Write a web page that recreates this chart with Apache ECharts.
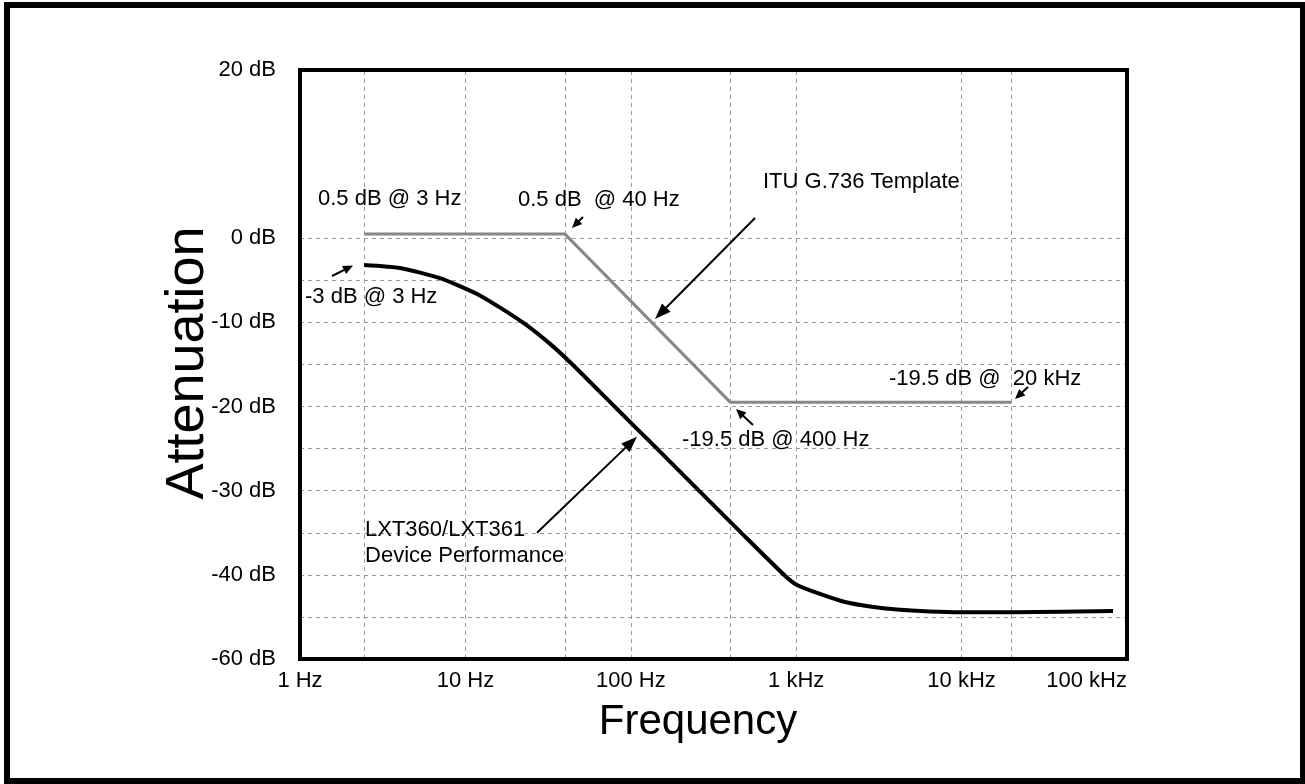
<!DOCTYPE html>
<html><head><meta charset="utf-8">
<script src="https://cdn.jsdelivr.net/npm/echarts@6/dist/echarts.min.js"></script>
<style>html,body{margin:0;padding:0;background:#fff}#c{width:1305px;height:784px}</style>
</head><body><div id="c"></div>
<script>
// ---- data ----
const xTickValues = [1, 10, 100, 1000, 10000, 100000];
const xTickLabels = ['1 Hz', '10 Hz', '100 Hz', '1 kHz', '10 kHz', '100 kHz'];
const yTickValues = [20, 0, -10, -20, -30, -40, -50];
const yTickLabels = ['20 dB', '0 dB', '-10 dB', '-20 dB', '-30 dB', '-40 dB', '-60 dB'];
const xGridValues = [2.44, 10, 40, 100, 400, 1000, 10000, 20000];
const yGridValues = [0, -5, -10, -15, -20, -25, -30, -35, -40, -45];
const templateFreq = [2.44, 40, 400, 20000];
const templateDb = [0.5, 0.5, -19.5, -19.5];
const deviceFreq = [2.44, 4.02, 7.02, 12.3, 22.0, 32.5, 44.7, 80.3, 144, 258, 464, 855, 1011, 1393, 1973, 2794, 4060, 6441, 9900, 20500, 82300];
const deviceDb = [-3.17, -3.53, -4.74, -6.82, -9.94, -12.55, -15.06, -20.05, -25.0, -29.99, -34.98, -40.1, -41.2, -42.27, -43.23, -43.76, -44.12, -44.35, -44.44, -44.44, -44.3];
const annotationTexts = ['0.5 dB @ 3 Hz', '0.5 dB  @ 40 Hz', 'ITU G.736 Template', '-3 dB @ 3 Hz',
  '-19.5 dB @ 400 Hz', '-19.5 dB @  20 kHz', 'LXT360/LXT361', 'Device Performance'];
const annotationFreq = [1.285, 20.8, 629.6, 1.072, 204, 3640, 2.472, 2.472];
const annotationDb = [4.69, 4.55, 6.69, -6.98, -23.97, -16.72, -34.66, -37.75];
// arrows (tail -> head) in data coordinates
const arrowFromFreq = [1.562, 51.4, 563.5, 548, 25200, 27.1];
const arrowFromDb = [-4.48, 2.53, 2.41, -22.19, -17.67, -34.99];
const arrowToFreq = [2.091, 44.1, 140.1, 432.5, 21030, 109.0];
const arrowToDb = [-3.23, 1.22, -9.59, -20.29, -19.10, -23.58];
const arrowBig = [false, false, true, false, false, true];

const FONT = "'Liberation Sans', Arial, Helvetica, sans-serif";
const chart = echarts.init(document.getElementById('c'));

function xLabel(v) {
  const e = Math.round(Math.log10(v));
  const i = xTickValues.findIndex(t => Math.round(Math.log10(t)) === e);
  return i >= 0 ? xTickLabels[i] : '';
}
function yLabel(v) {
  const i = yTickValues.indexOf(Math.round(v));
  return i >= 0 ? yTickLabels[i] : '';
}

const gridLineData = xGridValues.map(v => ({ xAxis: v })).concat(yGridValues.map(v => ({ yAxis: v })));

chart.setOption({
  animation: false,
  backgroundColor: '#fff',
  grid: { left: 300, right: 178, top: 70, bottom: 125, show: true, borderColor: '#000', borderWidth: 4, backgroundColor: 'transparent', z: 10 },
  xAxis: {
    type: 'log', logBase: 10, min: 1, max: 100000,
    axisLine: { show: false }, axisTick: { show: false }, splitLine: { show: false },
    axisLabel: { formatter: xLabel, fontSize: 22, color: '#000', fontFamily: FONT, margin: 11, alignMaxLabel: 'right' }
  },
  yAxis: {
    type: 'value', min: -50, max: 20, interval: 5,
    axisLine: { show: false }, axisTick: { show: false }, splitLine: { show: false },
    axisLabel: { formatter: yLabel, fontSize: 22, color: '#000', fontFamily: FONT, margin: 24 }
  },
  series: [
    {
      type: 'line', data: [[1, -50]], symbol: 'none', silent: true, z: 1,
      lineStyle: { opacity: 0 },
      markLine: {
        silent: true, symbol: ['none', 'none'], z: 1, animation: false,
        label: { show: false },
        lineStyle: { color: '#9a9a9a', type: [4, 4], width: 1 },
        data: gridLineData
      }
    },
    {
      type: 'line', data: templateFreq.map((f, i) => [f, templateDb[i]]),
      symbol: 'none', z: 3, lineStyle: { color: '#878787', width: 3 }
    },
    {
      type: 'line', data: deviceFreq.map((f, i) => [f, deviceDb[i]]),
      symbol: 'none', smooth: 0.2, z: 4, lineStyle: { color: '#000', width: 4 }
    }
  ]
});

function toPx(f, db) { return chart.convertToPixel({ gridIndex: 0 }, [f, db]); }

const graphics = [];
graphics.push({ type: 'rect', shape: { x: 7, y: 5, width: 1296, height: 776 }, style: { fill: 'none', stroke: '#000', lineWidth: 6 }, z: 100 });
graphics.push({ type: 'text', x: 698, y: 722, style: { text: 'Frequency', fontSize: 42, fontFamily: FONT, fill: '#000', align: 'center', verticalAlign: 'middle' }, z: 100 });
graphics.push({ type: 'text', x: 188, y: 363, rotation: Math.PI / 2, style: { text: 'Attenuation', fontSize: 54, fontFamily: FONT, fill: '#000', align: 'center', verticalAlign: 'middle' }, z: 100 });

annotationTexts.forEach((t, i) => {
  const p = toPx(annotationFreq[i], annotationDb[i]);
  graphics.push({ type: 'text', x: p[0], y: p[1], style: { text: t, fontSize: 22, fontFamily: FONT, fill: '#000', align: 'left', verticalAlign: 'middle' }, z: 50 });
});

arrowFromFreq.forEach((f, i) => {
  const a = toPx(f, arrowFromDb[i]);
  const b = toPx(arrowToFreq[i], arrowToDb[i]);
  const dx = b[0] - a[0], dy = b[1] - a[1];
  const len = Math.sqrt(dx * dx + dy * dy);
  const ux = dx / len, uy = dy / len;
  const L = arrowBig[i] ? 16 : 10, W = arrowBig[i] ? 6 : 4.5;
  const bx = b[0] - ux * L, by = b[1] - uy * L;
  graphics.push({ type: 'line', shape: { x1: a[0], y1: a[1], x2: bx + ux * 2, y2: by + uy * 2 }, style: { stroke: '#000', lineWidth: 2 }, z: 50 });
  graphics.push({ type: 'polygon', shape: { points: [[b[0], b[1]], [bx - uy * W, by + ux * W], [bx + uy * W, by - ux * W]] }, style: { fill: '#000' }, z: 50 });
});

chart.setOption({ graphic: graphics });
</script>
</body></html>
